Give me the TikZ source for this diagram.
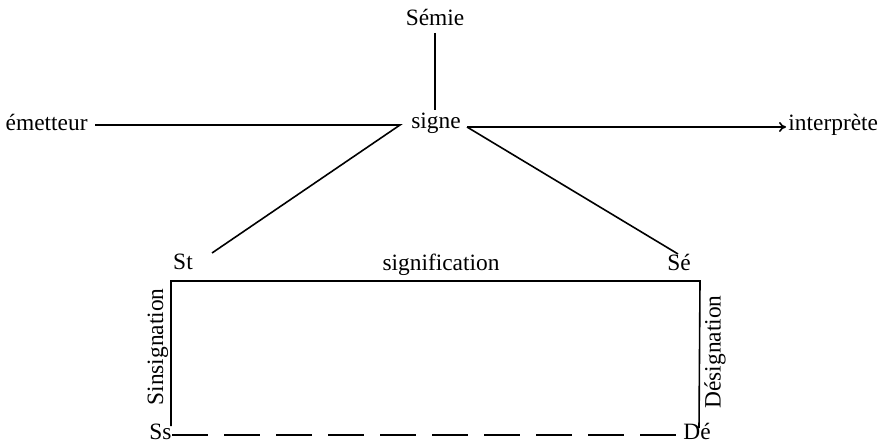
\documentclass[tikz,border=0pt]{standalone}
\usepackage{fontspec}
\setmainfont{Liberation Serif}
\usetikzlibrary{arrows.meta}
\begin{document}
\begin{tikzpicture}[x=0.5pt, y=-0.5pt, font=\fontsize{11.7}{14}\selectfont,
    lbl/.style={inner sep=0pt, anchor=base}]
  \useasboundingbox (0,0) rectangle (887,442);
  % labels
  \node[lbl] (semie) at (435,26) {Sémie};
  \node[lbl] (signe) at (436,129) {signe};
  \node[lbl, anchor=base east] (emet) at (88,131) {émetteur};
  \node[lbl, anchor=base west] (interp) at (788,131) {interprète};
  \node[lbl] (st) at (183,270) {St};
  \node[lbl] (se) at (679,271) {Sé};
  \node[lbl] (signif) at (441,271) {signification};
  \node[lbl, anchor=base east] (ss) at (172,439) {Ss};
  \node[lbl, anchor=base west] (de) at (683,439) {Dé};
  \node[inner sep=0pt, rotate=90] (sins) at (158,347) {Sinsignation};
  \node[inner sep=0pt, rotate=90] (desig) at (715,352) {Désignation};
  % corners
  \coordinate (jl) at (400,125);
  \coordinate (jr) at (467,127);
  \coordinate (tl) at (171,281);
  \coordinate (tr) at (700,281);
  \coordinate (bl) at (171,426);
  \coordinate (br) at (699,428);
  % lines
  \draw[thick] (semie.south |- 0,33) -- (semie.south |- 0,110);
  \draw[thick] (95,125) -- (jl) -- (212,253);
  \draw[thick, -{To[length=3.5pt, width=5pt]}] (jr) -- ([xshift=-1pt]interp.west |- jr);
  \draw[thick] (jr) -- (678,254);
  \draw[thick] (bl) -- (tl) -- (tr) -- (br);
  \draw[thick, dashed, dash pattern=on 18pt off 8pt] (ss.east |- 0,435) -- (de.west |- 0,435);
\end{tikzpicture}
\end{document}
